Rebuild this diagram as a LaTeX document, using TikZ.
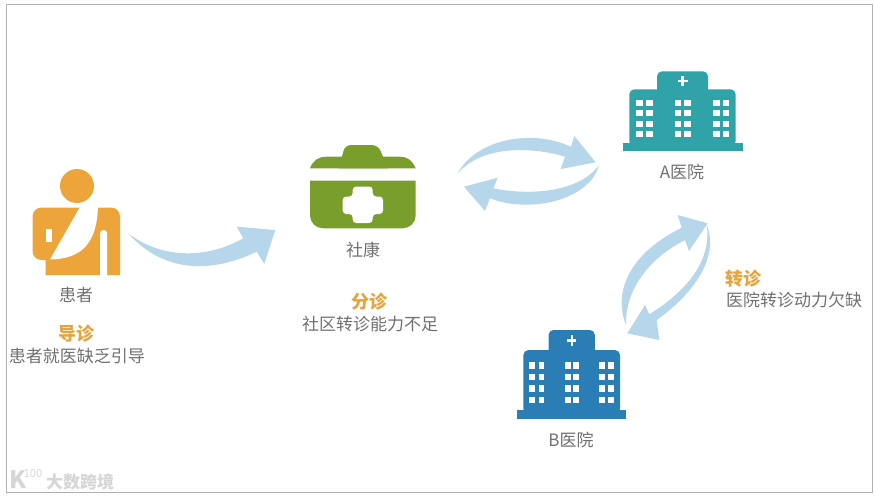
\documentclass[tikz,border=0pt]{standalone}
\usepackage{fontspec}
\setmainfont{Noto Sans CJK SC}
\usepackage{tikz}
\usetikzlibrary{positioning}
\definecolor{textgray}{HTML}{707070}
\definecolor{accent}{HTML}{E8A33D}
\definecolor{patientcol}{HTML}{EDA53B}
\definecolor{kitcol}{HTML}{7A9E2C}
\definecolor{tealcol}{HTML}{2FA3A8}
\definecolor{bluecol}{HTML}{2B7DB6}
\definecolor{arrowcol}{HTML}{B6D6EC}
\definecolor{markcol}{HTML}{D6D6D6}
\tikzset{
    label/.style={text=textgray, font=\fontsize{17}{19}\selectfont, inner sep=0pt},
    headline/.style={text=accent, font=\fontsize{18}{20}\selectfont\bfseries, inner sep=0pt},
    fatarrow/.style={fill=arrowcol, draw=none},
    hospital/.pic={
        \fill[pic actions] (-60,71.4) rectangle (60,80);
        \fill[pic actions, rounded corners=5pt] (-53.2,75) -- (-53.2,18) -- (53.2,18) -- (53.2,75) -- cycle;
        \fill[pic actions, rounded corners=5pt] (-25.5,30) -- (-25.5,0) -- (25.5,0) -- (25.5,30) -- cycle;
        \fill[white] (-5,8.3) rectangle (5,10.7);
        \fill[white] (-1.2,4.5) rectangle (1.2,14.5);
        \foreach \x in {-46.5,-36.5,-7.8,1.8,30.5,40.2}
            \foreach \y in {28.7,39,49.4,59.7}
                \fill[white] (\x,\y) rectangle ++(6.5,5.8);
    }
}
\begin{document}
\begin{tikzpicture}[x=1pt, y=-1pt]
    \useasboundingbox (0,0) rectangle (875,498);
    \draw[draw=black!30, line width=1pt] (6.5,4.5) rectangle (872,492);

    % patient
    \fill[patientcol] (77,186) circle (17);
    \fill[patientcol] (45.7,275) -- (45.7,260) [rounded corners=9pt] -- (32.5,260) -- (32.5,207.5) -- (120,207.5) [sharp corners] -- (120,275) -- cycle;
    \fill[white] (80.5,206) -- (50,259.5) .. controls (82,259) and (97,243) .. (98,206) -- cycle;
    \fill[white] (46,229) rectangle (51.7,241.7);
    \fill[white] (100,276) -- (100,233.5) arc[start angle=180, end angle=360, radius=3.6] -- (107.2,276) -- cycle;

    % first aid kit
    \fill[kitcol] (339,168.3) [rounded corners=6pt] -- (345,145) -- (378,145) [sharp corners] -- (388,168.3) -- cycle;
    \fill[kitcol] (310,168.3) .. controls (313,160) and (319,156.7) .. (326,156.7) -- (400,156.7) .. controls (407,156.7) and (412,160) .. (415.7,168.3) -- cycle;
    \fill[kitcol] (310,180.7) -- (415.7,180.7) [rounded corners=13pt] -- (415.7,228.3) -- (310,228.3) [sharp corners] -- cycle;
    \fill[white, rounded corners=3.5pt] (352.7,196.5) -- (352.7,186.5) -- (372.7,186.5) -- (372.7,196.5) -- (383,196.5) -- (383,214) -- (372.7,214) -- (372.7,223) -- (352.7,223) -- (352.7,214) -- (342.7,214) -- (342.7,196.5) -- cycle;

    % hospitals
    \pic[tealcol] (hospa) at (682.5,71.3) {hospital};
    \pic[bluecol, xscale=.909, yscale=1.116] (hospb) at (571.7,330) {hospital};

    % texts
    \node[label] (patient) at (76,295) {患者};
    \node[headline] (guide) at (76,334) {导诊};
    \node[label] (guidetxt) at (77,356) {患者就医缺乏引导};
    \node[label] (kit) at (363,250) {社康};
    \node[headline] (triage) at (369,302) {分诊};
    \node[label] (triagetxt) at (370,324) {社区转诊能力不足};
    \node[label] (hosplabela) at (682,172) {A医院};
    \node[label] (hosplabelb) at (571,440) {B医院};
    \node[headline, anchor=west] (refer) at (725,279) {转诊};
    \node[label, anchor=west] (refertxt) at (726,300) {医院转诊动力欠缺};

    % fat arrows
    \coordinate (ptail) at (128.3,233.3);
    \coordinate (ptip) at (275.3,230);
    \fill[fatarrow] (ptail) .. controls (160,258) and (205,260) .. (243.3,238.3) -- (236.7,226.7) -- (ptip) -- (264.3,264) -- (256.7,251.7) .. controls (215,272) and (165,275) .. cycle;

    \coordinate (ktail) at (457.3,174);
    \coordinate (ktip) at (595.7,162.3);
    \fill[fatarrow] (ktail) .. controls (475,140) and (530,128) .. (571,146.7) -- (574.3,136) -- (ktip) -- (560.7,169) -- (565,156.7) .. controls (530,146) and (480,146) .. cycle;

    \coordinate (atail) at (599,165);
    \coordinate (atip) at (464,186.7);
    \fill[fatarrow] (atail) .. controls (590,200) and (530,214) .. (490,198.3) -- (485,211) -- (atip) -- (497.7,177.7) -- (493.3,188.3) .. controls (530,196) and (580,192) .. cycle;

    \coordinate (btail) at (626,325);
    \coordinate (btip) at (707.7,223.3);
    \fill[fatarrow] (btail) .. controls (612,290) and (632,252) .. (681.7,227.7) -- (677.7,215) -- (btip) -- (689,251) -- (685,240) .. controls (655,255) and (625,285) .. cycle;

    \coordinate (dtail) at (706.7,225);
    \coordinate (dtip) at (627.3,333.3);
    \fill[fatarrow] (dtail) .. controls (720,258) and (692,295) .. (656.7,320) -- (659.3,340) -- (dtip) -- (645,305) -- (649.3,314.3) .. controls (685,292) and (712,262) .. cycle;

    % watermark
    \node[text=markcol, font=\fontsize{24}{24}\selectfont\bfseries, inner sep=0pt] (markk) at (18,480) {K};
    \node[text=markcol, font=\fontsize{11}{11}\selectfont, inner sep=0pt] (markn) at (33,474) {100};
    \node[text=markcol, font=\fontsize{17}{18}\selectfont\bfseries, inner sep=0pt] (markt) at (80,482) {大数跨境};
\end{tikzpicture}
\end{document}
